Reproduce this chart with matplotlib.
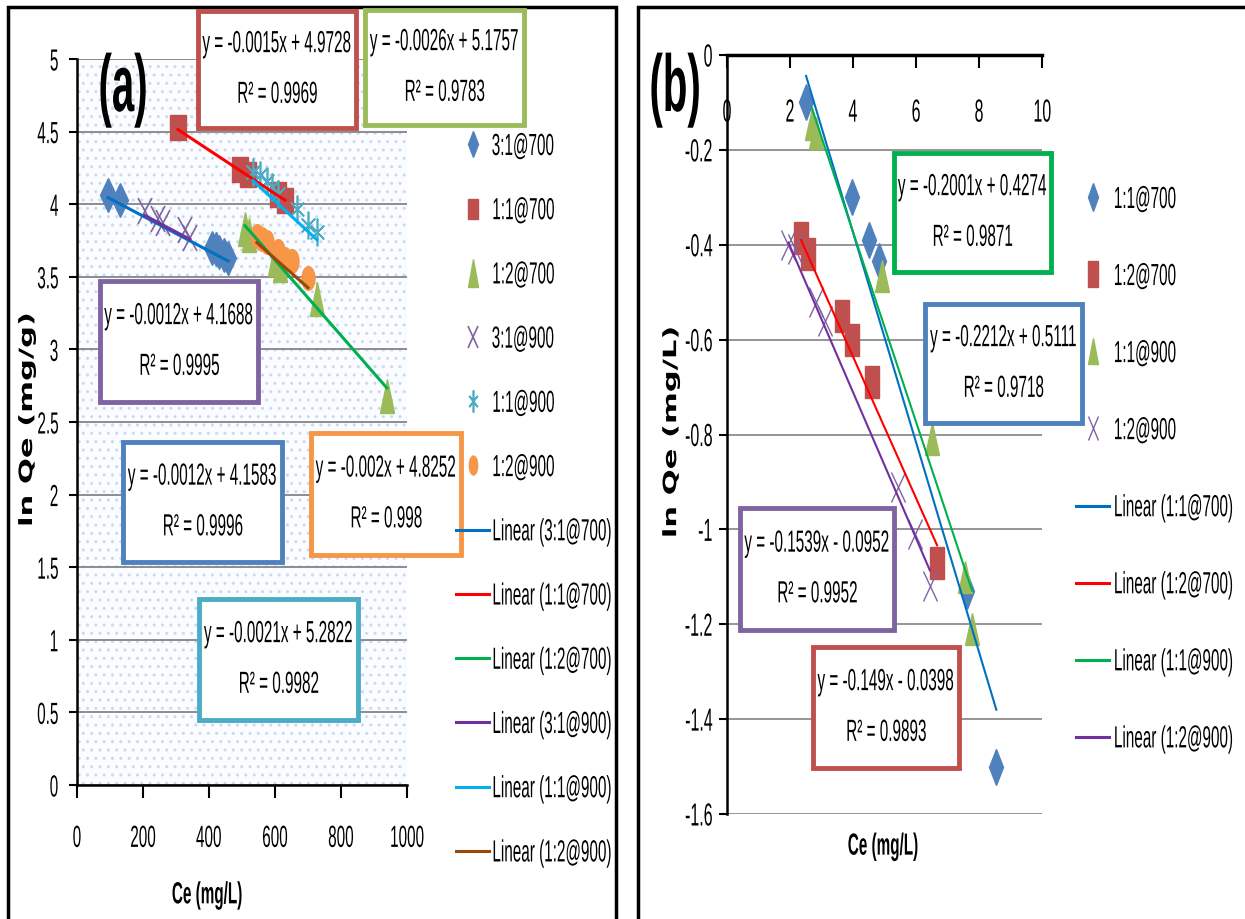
import numpy as np
import matplotlib
matplotlib.use("Agg")
import matplotlib.pyplot as plt
from matplotlib.markers import MarkerStyle
from matplotlib.transforms import Affine2D
from matplotlib.patches import Rectangle
from matplotlib.lines import Line2D
from matplotlib.text import Text
from matplotlib import patheffects

plt.rcParams['font.family'] = ['Liberation Sans', 'DejaVu Sans']
plt.rcParams['hatch.linewidth'] = 1.0

#Panel (a) data
a_names = ['3:1@700', '1:1@700', '1:2@700', '3:1@900', '1:1@900', '1:2@900']
a_x = [
    [94, 130, 410, 420, 430, 445, 458],
    [306, 494, 518, 609, 630],
    [509, 520, 600, 615, 727, 939],
    [206, 245, 261, 327, 342],
    [533, 555, 576, 590, 610, 666, 700, 727],
    [545, 560, 576, 609, 630, 652, 700],
]
a_y = [
    [4.06, 4.03, 3.70, 3.69, 3.67, 3.65, 3.63],
    [4.53, 4.24, 4.21, 4.07, 4.03],
    [3.83, 3.79, 3.62, 3.58, 3.35, 2.68],
    [3.95, 3.90, 3.87, 3.82, 3.77],
    [4.22, 4.20, 4.16, 4.12, 4.07, 3.97, 3.86, 3.81],
    [3.78, 3.76, 3.74, 3.68, 3.62, 3.61, 3.49],
]
a_slope = [-0.0012, -0.0015, -0.0026, -0.0012, -0.0021, -0.002]
a_icpt = [4.1583, 4.9728, 5.1757, 4.1688, 5.2822, 4.8252]
a_r2 = ['0.9996', '0.9969', '0.9783', '0.9995', '0.9982', '0.998']

#Panel (b) data
b_names = ['1:1@700', '1:2@700', '1:1@900', '1:2@900']
b_x = [
    [2.51, 3.97, 4.5, 4.83, 7.62, 8.55],
    [2.35, 2.57, 3.65, 3.97, 4.6, 6.67],
    [2.7, 2.83, 4.92, 6.5, 7.55, 7.78],
    [1.95, 2.16, 2.83, 3.11, 5.43, 5.97, 6.44],
]
b_y = [
    [-0.10, -0.30, -0.39, -0.435, -1.13, -1.50],
    [-0.385, -0.42, -0.55, -0.60, -0.69, -1.07],
    [-0.145, -0.165, -0.465, -0.81, -1.10, -1.21],
    [-0.40, -0.41, -0.52, -0.56, -0.91, -1.01, -1.12],
]
b_slope = [-0.2212, -0.149, -0.2001, -0.1539]
b_icpt = [0.5111, -0.0398, 0.4274, -0.0952]
b_r2 = ['0.9718', '0.9893', '0.9871', '0.9952']


class Squeeze(patheffects.AbstractPathEffect):
    #The original picture is squashed sideways, so the glyphs are drawn narrower
    def __init__(self, sx=0.5, anchor='center'):
        super().__init__()
        self.sx = sx
        self.anchor = anchor

    def draw_path(self, renderer, gc, tpath, affine, rgbFace=None):
        ext = tpath.transformed(affine).get_extents()
        if self.anchor == 'left':
            x0 = ext.x0
        elif self.anchor == 'right':
            x0 = ext.x1
        else:
            x0 = (ext.x0 + ext.x1) / 2
        t = affine + Affine2D().translate(-x0, 0).scale(self.sx, 1).translate(x0, 0)
        renderer.draw_path(gc, tpath, t, rgbFace)


def tall(m, sx):
    #Excel markers look squeezed sideways as well
    return MarkerStyle(m, transform=Affine2D().scale(sx, 1))


def eq_text(m, b, r2):
    sign = '+' if b >= 0 else '-'
    return "y = %gx %s %g\nR² = %s" % (m, sign, abs(b), r2)


mk_colors = {'3:1@700': '#4F81BD', '1:1@700': '#C0504D', '1:2@700': '#9BBB59',
             '3:1@900': '#8064A2', '1:1@900': '#4BACC6', '1:2@900': '#F79646'}
a_markers = [('D', 0.45, 17, 1), ('s', 0.64, 18, 1), ('^', 0.42, 25, 1),
             ('x', 0.55, 19, 1.2), ((6, 2, 0), 0.55, 20, 1.2), ('o', 0.55, 17, 1)]
a_line_colors = ['#0070C0', '#FF0000', '#00B050', '#7030A0', '#00B0F0', '#984807']

b_mk_colors = ['#4F81BD', '#C0504D', '#9BBB59', '#8064A2']
b_markers = [('D', 0.38, 18, 1), ('s', 0.42, 23, 1), ('^', 0.42, 23, 1), ('x', 0.5, 21, 1.0)]
b_line_colors = ['#0070C0', '#FF0000', '#00B050', '#7030A0']

fig = plt.figure(figsize=(12.45, 9.2), dpi=100)

#Panel frames
for x0, x1 in [(8, 616), (638, 1260)]:
    fig.patches.append(Rectangle((x0 / 1245, -0.05), (x1 - x0) / 1245, (912 + 46) / 920,
                                 transform=fig.transFigure, fill=False, ec='black', lw=2.5))

# ---------- panel (a) ----------
ax1 = fig.add_axes([77 / 1245, (920 - 786) / 920, 330 / 1245, 726 / 920])
ax1.add_patch(Rectangle((0, 0), 1, 1, transform=ax1.transAxes, fc='#FAFCFF',
                        ec='#C9DAF0', hatch='..', lw=0, zorder=0))
for i, name in enumerate(a_names):
    m, sx, ms, mew = a_markers[i]
    c = mk_colors[name]
    if m in ('x', (6, 2, 0)):
        ax1.plot(a_x[i], a_y[i], ls='none', marker=tall(m, sx), ms=ms, mec=c, mew=mew, zorder=3)
    else:
        ax1.plot(a_x[i], a_y[i], ls='none', marker=tall(m, sx), ms=ms, mfc=c, mec=c, zorder=3)
for i in range(len(a_names)):
    xs = np.array([min(a_x[i]), max(a_x[i])])
    ax1.plot(xs, a_slope[i] * xs + a_icpt[i], color=a_line_colors[i], lw=2.2, zorder=4)

ax1.set_xlim(0, 1000)
ax1.set_ylim(0, 5)
ax1.set_xticks(np.arange(0, 1001, 200))
ax1.set_yticks(np.arange(0, 5.01, 0.5))
ax1.set_yticklabels(['0', '0.5', '1', '1.5', '2', '2.5', '3', '3.5', '4', '4.5', '5'])
ax1.yaxis.grid(True, color='#8C8C8C', lw=1.4)
ax1.set_axisbelow(True)
for s in ['top', 'right']:
    ax1.spines[s].set_visible(False)
for s in ['left', 'bottom']:
    ax1.spines[s].set_linewidth(1.8)
ax1.tick_params(axis='y', direction='out', length=6, width=1.5, labelsize=22, pad=7)
ax1.tick_params(axis='x', direction='out', length=9, width=1.5, labelsize=22, pad=19)
ax1.set_xlabel('Ce (mg/L)', fontsize=22, fontweight='bold', va='center')
ax1.xaxis.set_label_coords(0.394, -0.152)
ax1.set_ylabel('ln Qe (mg/g)', fontsize=22, fontweight='bold', family='DejaVu Sans', va='center')
ax1.yaxis.set_label_coords(-0.152, 0.503)
fig.text(123 / 1245, 1 - 91 / 920, '(a)', ha='center', va='center', fontsize=58, fontweight='bold')

# equation boxes for (a): (x0, y0, x1, y1) in pixels
a_boxes = [(123, 443, 282, 563), (198, 12, 356, 129), (365, 11, 524, 126),
           (100, 282, 258, 403), (199, 600, 358, 721), (311, 434, 461, 556)]
a_box_colors = ['#4F81BD', '#C0504D', '#9BBB59', '#8064A2', '#4BACC6', '#F79646']

# ---------- panel (b) ----------
ax2 = fig.add_axes([727 / 1245, (920 - 815) / 920, 315 / 1245, 759 / 920])
for i, name in enumerate(b_names):
    m, sx, ms, mew = b_markers[i]
    c = b_mk_colors[i]
    if m == 'x':
        ax2.plot(b_x[i], b_y[i], ls='none', marker=tall(m, sx), ms=ms, mec=c, mew=mew, zorder=3)
    else:
        ax2.plot(b_x[i], b_y[i], ls='none', marker=tall(m, sx), ms=ms, mfc=c, mec=c, zorder=3)
for i in range(len(b_names)):
    xs = np.array([min(b_x[i]), max(b_x[i])])
    ax2.plot(xs, b_slope[i] * xs + b_icpt[i], color=b_line_colors[i], lw=1.5, zorder=4)

ax2.set_xlim(0, 10)
ax2.set_ylim(-1.6, 0)
ax2.set_xticks(np.arange(0, 11, 2))
ax2.set_yticks(np.arange(-1.6, 0.01, 0.2))
ax2.set_yticklabels(['-1.6', '-1.4', '-1.2', '-1', '-0.8', '-0.6', '-0.4', '-0.2', '0'])
ax2.yaxis.grid(True, color='#8C8C8C', lw=1.3)
ax2.set_axisbelow(True)
ax2.spines['bottom'].set_visible(False)
ax2.spines['right'].set_visible(False)
ax2.spines['top'].set_linewidth(2.5)
ax2.spines['left'].set_linewidth(1.8)
ax2.xaxis.set_ticks_position('top')
ax2.tick_params(axis='x', direction='in', length=9, width=1.5, labelsize=23, pad=-53)
ax2.tick_params(axis='y', direction='out', length=6, width=1.5, labelsize=23, pad=4)
ax2.set_xlabel('Ce (mg/L)', fontsize=22, fontweight='bold', va='center')
ax2.xaxis.set_label_coords(0.495, -0.043)
ax2.set_ylabel('ln Qe (mg/L)', fontsize=22, fontweight='bold', family='DejaVu Sans', va='center')
ax2.yaxis.set_label_coords(-0.178, 0.503)
fig.text(675 / 1245, 1 - 91 / 920, '(b)', ha='center', va='center', fontsize=58, fontweight='bold')

b_boxes = [(925, 305, 1082, 424), (813, 648, 959, 769), (894, 154, 1051, 273), (740, 509, 894, 631)]

#Equation boxes
for boxes, cols, slopes, icpts, r2s in [(a_boxes, a_box_colors, a_slope, a_icpt, a_r2),
                                        (b_boxes, b_mk_colors, b_slope, b_icpt, b_r2)]:
    for i, (x0, y0, x1, y1) in enumerate(boxes):
        col = cols[i]
        if boxes is b_boxes and i == 2:
            col = '#00B050'
        fig.patches.append(Rectangle((x0 / 1245, 1 - y1 / 920), (x1 - x0) / 1245, (y1 - y0) / 920,
                                     transform=fig.transFigure, fc='white', ec=col, lw=3.5, zorder=5))
        fig.text((x0 + x1) / 2 / 1245, 1 - (y0 + y1) / 2 / 920, eq_text(slopes[i], icpts[i], r2s[i]),
                 ha='center', va='center', fontsize=22, linespacing=1.9, zorder=6)

#Legends
a_handles = []
for i, name in enumerate(a_names):
    m, sx, ms, mew = a_markers[i]
    c = mk_colors[name]
    a_handles.append(Line2D([], [], ls='none', marker=tall(m, sx * 0.8), ms=ms * 0.8,
                            mfc=c if m not in ('x', (6, 2, 0)) else 'none', mec=c, mew=mew))
for i, name in enumerate(a_names):
    a_handles.append(Line2D([], [], color=a_line_colors[i], lw=2.2))
a_labels = a_names + ['Linear (%s)' % n for n in a_names]
fig.legend(a_handles, a_labels, loc='upper left', bbox_to_anchor=(456 / 1245, 1 - 133 / 920),
           frameon=False, fontsize=22, labelspacing=1.12, handlelength=1.08, handletextpad=0.07,
           borderpad=0, borderaxespad=0)

b_handles = []
for i, name in enumerate(b_names):
    m, sx, ms, mew = b_markers[i]
    c = b_mk_colors[i]
    b_handles.append(Line2D([], [], ls='none', marker=tall(m, sx * 0.9), ms=ms * 0.8,
                            mfc=c if m != 'x' else 'none', mec=c, mew=mew))
for i, name in enumerate(b_names):
    b_handles.append(Line2D([], [], color=b_line_colors[i], lw=2.2))
b_labels = b_names + ['Linear (%s)' % n for n in b_names]
fig.legend(b_handles, b_labels, loc='upper left', bbox_to_anchor=(1076 / 1245, 1 - 186 / 920),
           frameon=False, fontsize=22, labelspacing=1.54, handlelength=1.08, handletextpad=0.12,
           borderpad=0, borderaxespad=0)

#Squeeze every text sideways like the original
fig.canvas.draw()
for t in fig.findobj(Text):
    if t.get_rotation() != 0:
        anchor = 'center'
    else:
        anchor = {'left': 'left', 'right': 'right'}.get(t.get_ha(), 'center')
    sx = 0.6 if t.get_rotation() != 0 else 0.5
    t.set_path_effects([Squeeze(sx, anchor)])

fig.savefig('out.png', dpi=100)
